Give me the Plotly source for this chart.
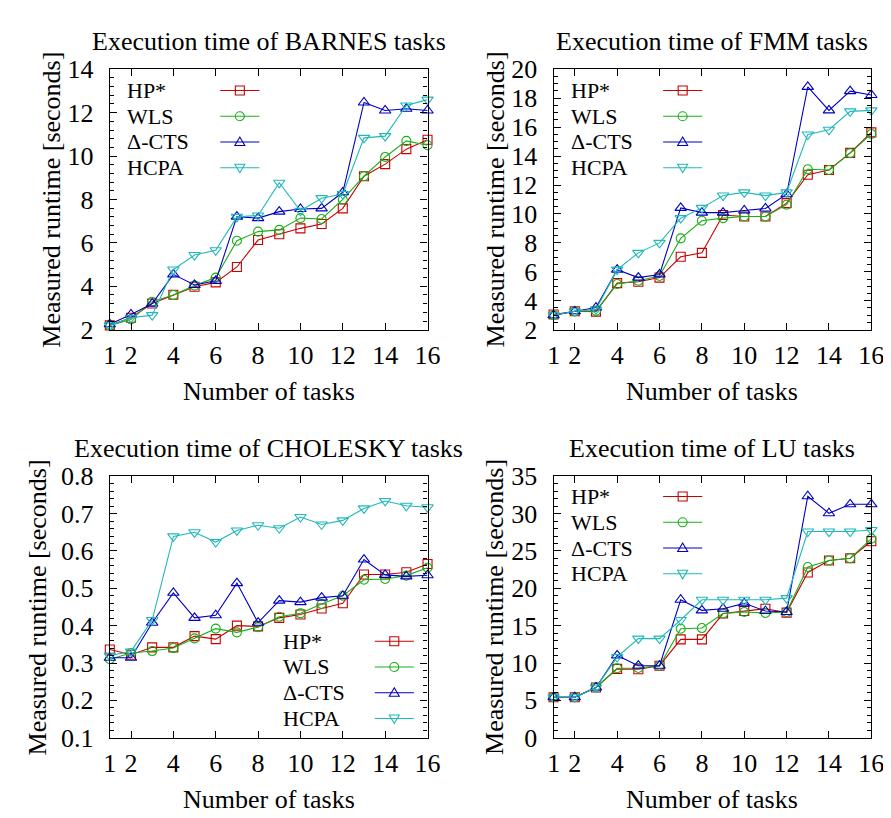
import plotly.graph_objects as go

W, H = 891, 818
FONT = "Liberation Serif"

tasks = list(range(1, 17))
x_ticks = [1, 2, 4, 6, 8, 10, 12, 14, 16]
series_names = ["HP*", "WLS", "Δ-CTS", "HCPA"]

barnes_hp = [2.2, 2.55, 3.21, 3.61, 3.98, 4.18, 4.89, 6.13, 6.4, 6.67, 6.87, 7.59, 9.07, 9.63, 10.32, 10.75]
barnes_wls = [2.2, 2.47, 3.29, 3.6, 4.03, 4.4, 6.1, 6.52, 6.6, 7.14, 7.1, 8.0, 9.07, 9.96, 10.7, 10.5]
barnes_cts = [2.25, 2.7, 3.2, 4.55, 4.06, 4.25, 7.21, 7.14, 7.44, 7.56, 7.59, 8.33, 12.47, 12.1, 12.18, 12.1]
barnes_hcpa = [2.2, 2.55, 2.67, 4.77, 5.44, 5.66, 7.2, 7.26, 8.77, 7.48, 8.06, 8.25, 10.84, 10.92, 12.33, 12.6]

fmm_hp = [3.05, 3.27, 3.25, 5.22, 5.31, 5.6, 7.04, 7.31, 9.93, 9.82, 9.82, 10.75, 12.71, 13.04, 14.22, 15.64]
fmm_wls = [3.0, 3.27, 3.3, 5.16, 5.38, 5.71, 8.31, 9.53, 9.71, 9.82, 9.82, 10.64, 13.09, 13.04, 14.2, 15.53]
fmm_cts = [3.0, 3.27, 3.53, 6.15, 5.6, 5.82, 10.42, 10.09, 10.09, 10.24, 10.38, 11.36, 18.78, 17.16, 18.49, 18.22]
fmm_hcpa = [3.0, 3.27, 3.4, 6.15, 7.31, 8.0, 9.71, 10.42, 11.27, 11.49, 11.27, 11.49, 15.49, 15.82, 17.09, 17.16]

chol_hp = [0.336, 0.322, 0.342, 0.342, 0.372, 0.364, 0.4, 0.398, 0.421, 0.43, 0.446, 0.46, 0.537, 0.537, 0.543, 0.565]
chol_wls = [0.31, 0.327, 0.332, 0.34, 0.366, 0.392, 0.382, 0.396, 0.424, 0.433, 0.458, 0.48, 0.523, 0.525, 0.534, 0.555]
chol_cts = [0.314, 0.314, 0.408, 0.488, 0.421, 0.428, 0.514, 0.408, 0.467, 0.463, 0.475, 0.48, 0.577, 0.536, 0.532, 0.535]
chol_hcpa = [0.32, 0.331, 0.415, 0.639, 0.65, 0.624, 0.655, 0.669, 0.661, 0.691, 0.671, 0.682, 0.714, 0.734, 0.721, 0.717]

lu_hp = [5.42, 5.42, 6.72, 9.21, 9.17, 9.64, 13.17, 13.17, 16.62, 16.96, 17.27, 16.75, 22.12, 23.72, 24.02, 26.3]
lu_wls = [5.42, 5.42, 6.72, 9.3, 9.34, 9.64, 14.59, 14.68, 16.62, 16.83, 16.7, 16.83, 22.86, 23.72, 24.02, 26.65]
lu_cts = [5.42, 5.42, 6.72, 11.02, 9.64, 9.64, 18.47, 17.05, 17.27, 17.99, 16.96, 16.83, 32.33, 30.05, 31.25, 31.25]
lu_hcpa = [5.42, 5.42, 6.72, 10.81, 13.26, 13.26, 15.76, 18.47, 18.47, 18.47, 18.47, 18.69, 27.6, 27.6, 27.6, 27.8]

colors = ["#c80000", "#18b018", "#0000c0", "#20b8b8"]
symbols = ["square-open", "circle-open", "triangle-up-open", "triangle-down-open"]
msizes = [9, 9, 10, 10]

TXT = 26
LEG = 22

panels = [
    dict(title="Execution time of BARNES tasks", data=[barnes_hp, barnes_wls, barnes_cts, barnes_hcpa],
         yr=[2, 14], dt=2, mdt=0.4, box=(97, 422, 49, 319), leg=(114, 210, 71), fmt=None),
    dict(title="Execution time of FMM tasks", data=[fmm_hp, fmm_wls, fmm_cts, fmm_hcpa],
         yr=[2, 20], dt=2, mdt=0.5, box=(551, 876, 49, 319), leg=(568, 663, 71), fmt=None),
    dict(title="Execution time of CHOLESKY tasks", data=[chol_hp, chol_wls, chol_cts, chol_hcpa],
         yr=[0.1, 0.8], dt=0.1, mdt=0.02, box=(97, 422, 471, 742), leg=(273, 368, 642), fmt=".1f"),
    dict(title="Execution time of LU tasks", data=[lu_hp, lu_wls, lu_cts, lu_hcpa],
         yr=[0, 35], dt=5, mdt=1, box=(551, 876, 471, 742), leg=(568, 663, 492), fmt=None),
]

fig = go.Figure()
shapes = []
annotations = []

def px(x):
    return x / W

def py(y):
    return 1 - y / H

for i, p in enumerate(panels):
    n = i + 1
    xa = "x" if n == 1 else f"x{n}"
    ya = "y" if n == 1 else f"y{n}"
    l, r, t, b = p["box"]
    for k, vals in enumerate(p["data"]):
        fig.add_trace(go.Scatter(
            x=tasks, y=vals, mode="lines+markers", xaxis=xa, yaxis=ya,
            line=dict(color=colors[k], width=1.1),
            marker=dict(symbol=symbols[k], size=msizes[k], color=colors[k], line=dict(width=1.1, color=colors[k])),
            showlegend=False, cliponaxis=False, name=series_names[k]))
    axis_common = dict(showline=True, linecolor="black", linewidth=1.3, mirror="ticks",
                       ticks="inside", ticklen=7, tickcolor="black", tickwidth=1,
                       showgrid=False, zeroline=False,
                       tickfont=dict(family=FONT, size=TXT, color="black"))
    fig.layout[("xaxis" if n == 1 else f"xaxis{n}")] = dict(
        domain=[px(l), px(r)], anchor=ya, range=[1, 16], tickmode="array",
        tickvals=x_ticks, ticklabelstandoff=2, **axis_common)
    yd = dict(domain=[py(b), py(t)], anchor=xa, range=p["yr"], dtick=p["dt"], tick0=0,
              ticklabelstandoff=10,
              minor=dict(dtick=p["mdt"], ticks="inside", ticklen=4, tickcolor="black", showgrid=False),
              **axis_common)
    if p["fmt"]:
        yd["tickformat"] = p["fmt"]
    fig.layout[("yaxis" if n == 1 else f"yaxis{n}")] = yd

    annotations.append(dict(text=p["title"], x=px((l + r) / 2), y=py(t - 29), xref="paper", yref="paper",
                            showarrow=False, font=dict(family=FONT, size=TXT, color="black"),
                            xanchor="center", yanchor="middle"))
    annotations.append(dict(text="Number of tasks", x=px((l + r) / 2), y=py(b + 64), xref="paper", yref="paper",
                            showarrow=False, font=dict(family=FONT, size=TXT, color="black"),
                            xanchor="center", yanchor="middle"))
    ytx = l - 60 if p["fmt"] is None else l - 73
    annotations.append(dict(text="Measured runtime [seconds]", x=px(ytx), y=py((t + b) / 2), xref="paper", yref="paper",
                            showarrow=False, textangle=-90, font=dict(family=FONT, size=TXT, color="black"),
                            xanchor="center", yanchor="middle"))
    tx, lx, ty = p["leg"]
    for k in range(4):
        yy = ty + k * 26.7
        annotations.append(dict(text=series_names[k], x=px(tx), y=py(yy), xref="paper", yref="paper",
                                showarrow=False, font=dict(family=FONT, size=LEG, color="black"),
                                xanchor="left", yanchor="middle", borderpad=0))
        shapes.append(dict(type="line", xref="paper", yref="paper", x0=px(lx), x1=px(lx + 40),
                           y0=py(yy), y1=py(yy), line=dict(color=colors[k], width=1.1)))
        cx, cy = px(lx + 20), py(yy)
        common = dict(xref="paper", yref="paper", xsizemode="pixel", ysizemode="pixel",
                      xanchor=cx, yanchor=cy, line=dict(color=colors[k], width=1.1), fillcolor="rgba(0,0,0,0)")
        if k == 0:
            shapes.append(dict(type="rect", x0=-4.5, x1=4.5, y0=-4.5, y1=4.5, **common))
        elif k == 1:
            shapes.append(dict(type="circle", x0=-4.5, x1=4.5, y0=-4.5, y1=4.5, **common))
        elif k == 2:
            shapes.append(dict(type="path", path="M -5,-3.5 L 5,-3.5 L 0,5 Z", **common))
        else:
            shapes.append(dict(type="path", path="M -5,3.5 L 5,3.5 L 0,-5 Z", **common))

fig.update_layout(width=W, height=H, autosize=False, margin=dict(l=0, r=0, t=0, b=0),
                  paper_bgcolor="white", plot_bgcolor="white",
                  shapes=shapes, annotations=annotations, showlegend=False)

fig.write_html("out.html")
